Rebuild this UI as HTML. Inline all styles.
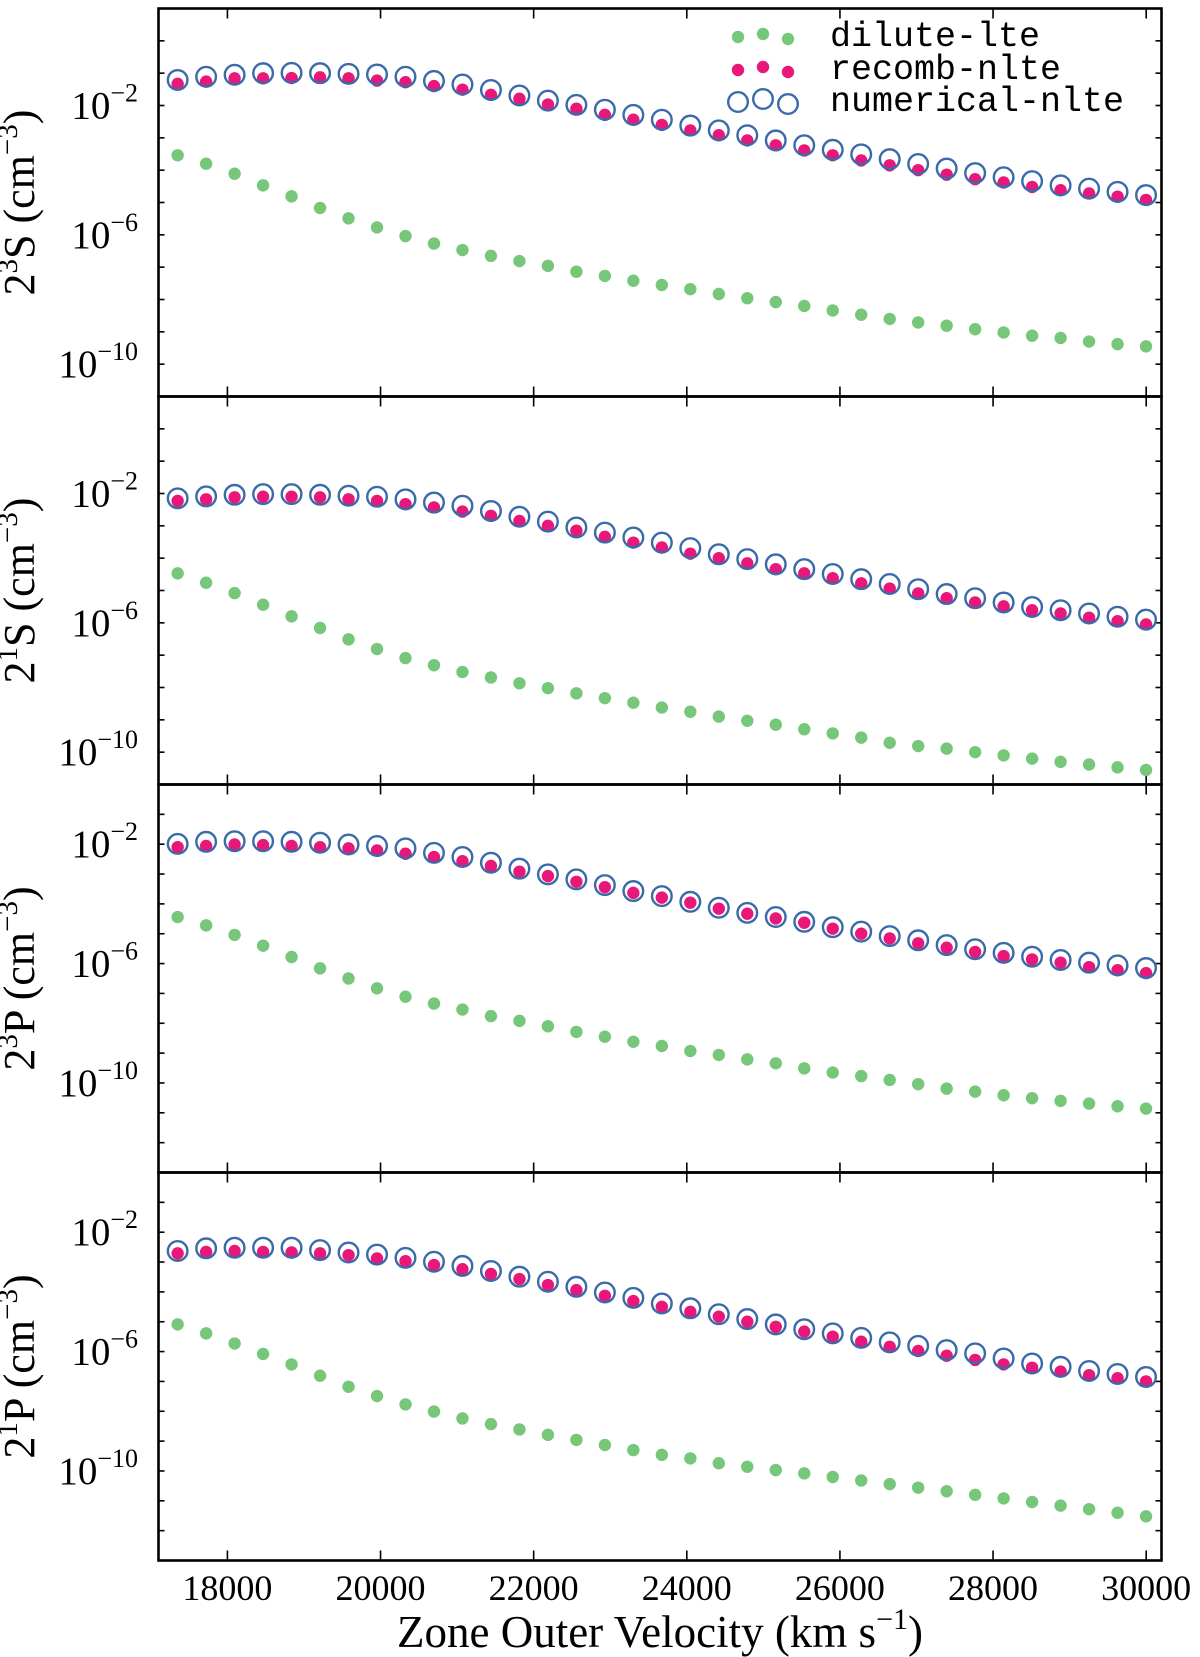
<!DOCTYPE html>
<html><head><meta charset="utf-8">
<style>
html,body{margin:0;padding:0;background:#fff;}
svg{display:block;}
text{font-family:"Liberation Serif","DejaVu Serif",serif;fill:#000;}
.mono{font-family:"Liberation Mono","DejaVu Sans Mono",monospace;}
</style></head>
<body>
<svg id="chart" width="1200" height="1657" viewBox="0 0 1200 1657" xmlns="http://www.w3.org/2000/svg"></svg>
<script>
// ---- data ----
const velocities = [17350,17722,18094,18466,18838,19210,19582,19954,20326,20698,21070,21442,21814,22186,22558,22930,23302,23674,24046,24418,24790,25162,25534,25906,26278,26650,27022,27394,27766,28138,28510,28882,29254,29626,29998];
const xTicks = [18000,20000,22000,24000,26000,28000,30000];
const yTickLabels = [-2,-6,-10];
const panelSups = ["3","1","3","1"];
const panelLetters = ["S","S","P","P"];
const yRangeTop = [1,1,0,0];
const yRangeBottom = [-11,-11,-13,-13];
// log10 of number density (cm^-3)
const p23S_dilute = [-3.54,-3.80,-4.11,-4.47,-4.81,-5.17,-5.49,-5.77,-6.04,-6.27,-6.47,-6.65,-6.81,-6.96,-7.14,-7.27,-7.42,-7.55,-7.68,-7.83,-7.96,-8.08,-8.20,-8.34,-8.47,-8.60,-8.71,-8.81,-8.92,-9.02,-9.12,-9.19,-9.30,-9.38,-9.45];
const p23S_recomb = [-1.33,-1.26,-1.16,-1.16,-1.15,-1.13,-1.16,-1.23,-1.28,-1.40,-1.51,-1.67,-1.79,-1.97,-2.10,-2.29,-2.44,-2.60,-2.77,-2.92,-3.08,-3.23,-3.39,-3.54,-3.70,-3.85,-4.00,-4.14,-4.28,-4.38,-4.52,-4.62,-4.72,-4.82,-4.92];
const p23S_numer = [-1.21,-1.11,-1.05,-1.00,-0.99,-1.00,-1.02,-1.04,-1.11,-1.24,-1.35,-1.52,-1.69,-1.85,-1.98,-2.13,-2.29,-2.44,-2.62,-2.77,-2.92,-3.08,-3.23,-3.37,-3.51,-3.66,-3.81,-3.95,-4.09,-4.22,-4.34,-4.47,-4.57,-4.67,-4.77];
const p21S_dilute = [-4.47,-4.76,-5.08,-5.44,-5.80,-6.16,-6.51,-6.81,-7.09,-7.31,-7.52,-7.69,-7.87,-8.02,-8.18,-8.33,-8.47,-8.62,-8.75,-8.90,-9.03,-9.15,-9.29,-9.42,-9.55,-9.71,-9.81,-9.89,-10.00,-10.10,-10.20,-10.30,-10.38,-10.47,-10.55];
const p21S_recomb = [-2.23,-2.18,-2.12,-2.10,-2.10,-2.12,-2.18,-2.23,-2.33,-2.43,-2.56,-2.69,-2.85,-3.00,-3.15,-3.34,-3.52,-3.67,-3.86,-4.00,-4.16,-4.34,-4.47,-4.62,-4.78,-4.94,-5.09,-5.24,-5.37,-5.49,-5.61,-5.71,-5.84,-5.95,-6.05];
const p21S_numer = [-2.15,-2.09,-2.04,-2.02,-2.02,-2.04,-2.07,-2.10,-2.18,-2.28,-2.38,-2.54,-2.72,-2.87,-3.05,-3.21,-3.36,-3.52,-3.69,-3.88,-4.03,-4.19,-4.34,-4.49,-4.65,-4.80,-4.96,-5.11,-5.24,-5.37,-5.51,-5.61,-5.71,-5.81,-5.90];
const p23P_dilute = [-4.44,-4.72,-5.04,-5.40,-5.78,-6.16,-6.50,-6.83,-7.11,-7.34,-7.54,-7.76,-7.92,-8.10,-8.29,-8.45,-8.62,-8.76,-8.93,-9.06,-9.21,-9.34,-9.51,-9.65,-9.77,-9.90,-10.04,-10.19,-10.29,-10.41,-10.51,-10.60,-10.69,-10.78,-10.86];
const p23P_recomb = [-2.10,-2.06,-2.01,-2.03,-2.06,-2.10,-2.14,-2.21,-2.32,-2.43,-2.57,-2.73,-2.92,-3.07,-3.26,-3.44,-3.63,-3.79,-3.96,-4.16,-4.33,-4.49,-4.63,-4.83,-5.00,-5.16,-5.32,-5.47,-5.61,-5.75,-5.86,-5.97,-6.12,-6.22,-6.32];
const p23P_numer = [-1.99,-1.92,-1.90,-1.90,-1.92,-1.95,-2.01,-2.06,-2.14,-2.29,-2.43,-2.62,-2.82,-3.01,-3.18,-3.37,-3.57,-3.74,-3.93,-4.13,-4.30,-4.44,-4.60,-4.78,-4.93,-5.08,-5.22,-5.38,-5.52,-5.64,-5.77,-5.88,-5.97,-6.06,-6.15];
const p21P_dilute = [-5.09,-5.39,-5.73,-6.08,-6.43,-6.81,-7.18,-7.49,-7.77,-8.01,-8.24,-8.43,-8.61,-8.79,-8.96,-9.13,-9.30,-9.46,-9.58,-9.74,-9.86,-9.97,-10.08,-10.20,-10.32,-10.44,-10.56,-10.68,-10.80,-10.92,-11.04,-11.16,-11.28,-11.40,-11.52];
const p21P_recomb = [-2.71,-2.66,-2.63,-2.66,-2.68,-2.71,-2.77,-2.88,-2.97,-3.10,-3.24,-3.40,-3.57,-3.77,-3.94,-4.13,-4.31,-4.50,-4.67,-4.83,-5.00,-5.17,-5.33,-5.50,-5.67,-5.84,-5.98,-6.14,-6.28,-6.43,-6.54,-6.67,-6.79,-6.89,-7.00];
const p21P_numer = [-2.63,-2.54,-2.52,-2.52,-2.52,-2.60,-2.68,-2.75,-2.86,-2.99,-3.13,-3.30,-3.49,-3.66,-3.83,-4.02,-4.20,-4.39,-4.55,-4.75,-4.91,-5.09,-5.25,-5.39,-5.54,-5.69,-5.81,-5.95,-6.06,-6.23,-6.40,-6.51,-6.65,-6.75,-6.85];

const panelDilute = [p23S_dilute,p21S_dilute,p23P_dilute,p21P_dilute];
const panelRecomb = [p23S_recomb,p21S_recomb,p23P_recomb,p21P_recomb];
const panelNumer = [p23S_numer,p21S_numer,p23P_numer,p21P_numer];

// ---- layout ----
const NS = "http://www.w3.org/2000/svg";
const svg = document.getElementById('chart');
const L = 158.5, R = 1161.5, PH = 388;
const tops = [8.5, 396.5, 784.5, 1172.5];
const XMIN = 17100, XMAX = 30200;
const GREEN = "#77c77a", PINK = "#e8177a", BLUE = "#3a6aaa";
function xs(v){ return L + (v - XMIN) / (XMAX - XMIN) * (R - L); }
function ys(p, lg){ const t = yRangeTop[p], b = yRangeBottom[p]; return tops[p] + (t - lg) / (t - b) * PH; }
function mk(tag, attrs, parent){ const e = document.createElementNS(NS, tag); for (const k in attrs) e.setAttribute(k, attrs[k]); (parent || svg).appendChild(e); return e; }

for (let p = 0; p < 4; p++) {
  const g = mk('g', {});
  
  
  const T = tops[p], B = T + PH;
  for (let d = yRangeBottom[p] + 1; d < yRangeTop[p]; d++) {
    const y = ys(p, d);
    const len = 6;
    const t1 = mk('line', {x1: L, x2: L + len, y1: y, y2: y, stroke: '#000', 'stroke-width': 1.6}, g);
    
    
    const t2 = mk('line', {x1: R, x2: R - len, y1: y, y2: y, stroke: '#000', 'stroke-width': 1.6}, g);
    
    
  }
  yTickLabels.forEach(d => {
    const y = ys(p, d);
    const tx = mk('text', {x: 138, y: y + 13, 'text-anchor': 'end', 'font-size': 39}, g);
    
    
    tx.textContent = '10';
    const sup = mk('tspan', {dy: -17, 'font-size': 26}, tx);
    sup.textContent = '\u2212' + Math.abs(d);
  });
  xTicks.forEach(v => {
    const x = xs(v);
    const a = mk('line', {x1: x, x2: x, y1: T, y2: T + 10, stroke: '#000', 'stroke-width': 1.6}, g);
    
    
    const b = mk('line', {x1: x, x2: x, y1: B, y2: B - 10, stroke: '#000', 'stroke-width': 1.6}, g);
    
    
  });
  const dil = panelDilute[p], rec = panelRecomb[p], num = panelNumer[p];
  velocities.forEach((v, i) => {
    const c = mk('circle', {cx: xs(v), cy: ys(p, dil[i]), r: 6.2, fill: GREEN}, g);
    
    
  });
  velocities.forEach((v, i) => {
    const c = mk('circle', {cx: xs(v), cy: ys(p, rec[i]), r: 6.2, fill: PINK}, g);
    
    
  });
  velocities.forEach((v, i) => {
    const c = mk('circle', {cx: xs(v), cy: ys(p, num[i]), r: 9.8, fill: 'none', stroke: BLUE, 'stroke-width': 2.4}, g);
    
    
  });
  const fr = mk('rect', {x: L, y: T, width: R - L, height: PH, fill: 'none', stroke: '#000', 'stroke-width': 2.6}, g);
  
  
  const cy = T + PH / 2;
  const yt = mk('text', {x: 0, y: 0, 'text-anchor': 'middle', 'font-size': 44, transform: 'translate(34,' + cy + ') rotate(-90)'}, g);
  
  
  yt.appendChild(document.createTextNode('2'));
  const s1 = mk('tspan', {dy: -17, 'font-size': 29}, yt); s1.textContent = panelSups[p];
  const s2 = mk('tspan', {dy: 17}, yt); s2.textContent = panelLetters[p] + ' (cm';
  const s3 = mk('tspan', {dy: -17, 'font-size': 29}, yt); s3.textContent = '\u22123';
  const s4 = mk('tspan', {dy: 17}, yt); s4.textContent = ')';
}

xTicks.forEach(v => {
  const t = mk('text', {x: xs(v), y: 1600, 'text-anchor': 'middle', 'font-size': 36});
  
  
  t.textContent = v;
});
const xt = mk('text', {x: 660, y: 1647, 'text-anchor': 'middle', 'font-size': 45});


xt.appendChild(document.createTextNode('Zone Outer Velocity (km s'));
const xs1 = mk('tspan', {dy: -18, 'font-size': 30}, xt); xs1.textContent = '\u22121';
const xs2 = mk('tspan', {dy: 18}, xt); xs2.textContent = ')';

const lg = mk('g', {});


const legX = [738, 763, 788];
const legDy = [1, -2, 3];
const legRows = [
  {label: 'dilute-lte', y: 36, kind: 'g'},
  {label: 'recomb-nlte', y: 69, kind: 'p'},
  {label: 'numerical-nlte', y: 101, kind: 'b'}
];
legRows.forEach(row => {
  const e = mk('g', {}, lg);
  
  
  legX.forEach((x, k) => {
    const y = row.y + legDy[k];
    let c;
    if (row.kind === 'g') c = mk('circle', {cx: x, cy: y, r: 6.2, fill: GREEN}, e);
    else if (row.kind === 'p') c = mk('circle', {cx: x, cy: y, r: 6.2, fill: PINK}, e);
    else c = mk('circle', {cx: x, cy: y, r: 9.8, fill: 'none', stroke: BLUE, 'stroke-width': 2.4}, e);
    
    
  });
  const t = mk('text', {x: 830, y: row.y + 10, 'font-size': 35, class: 'mono'}, e);
  
  
  t.textContent = row.label;
});
</script>
</body></html>
